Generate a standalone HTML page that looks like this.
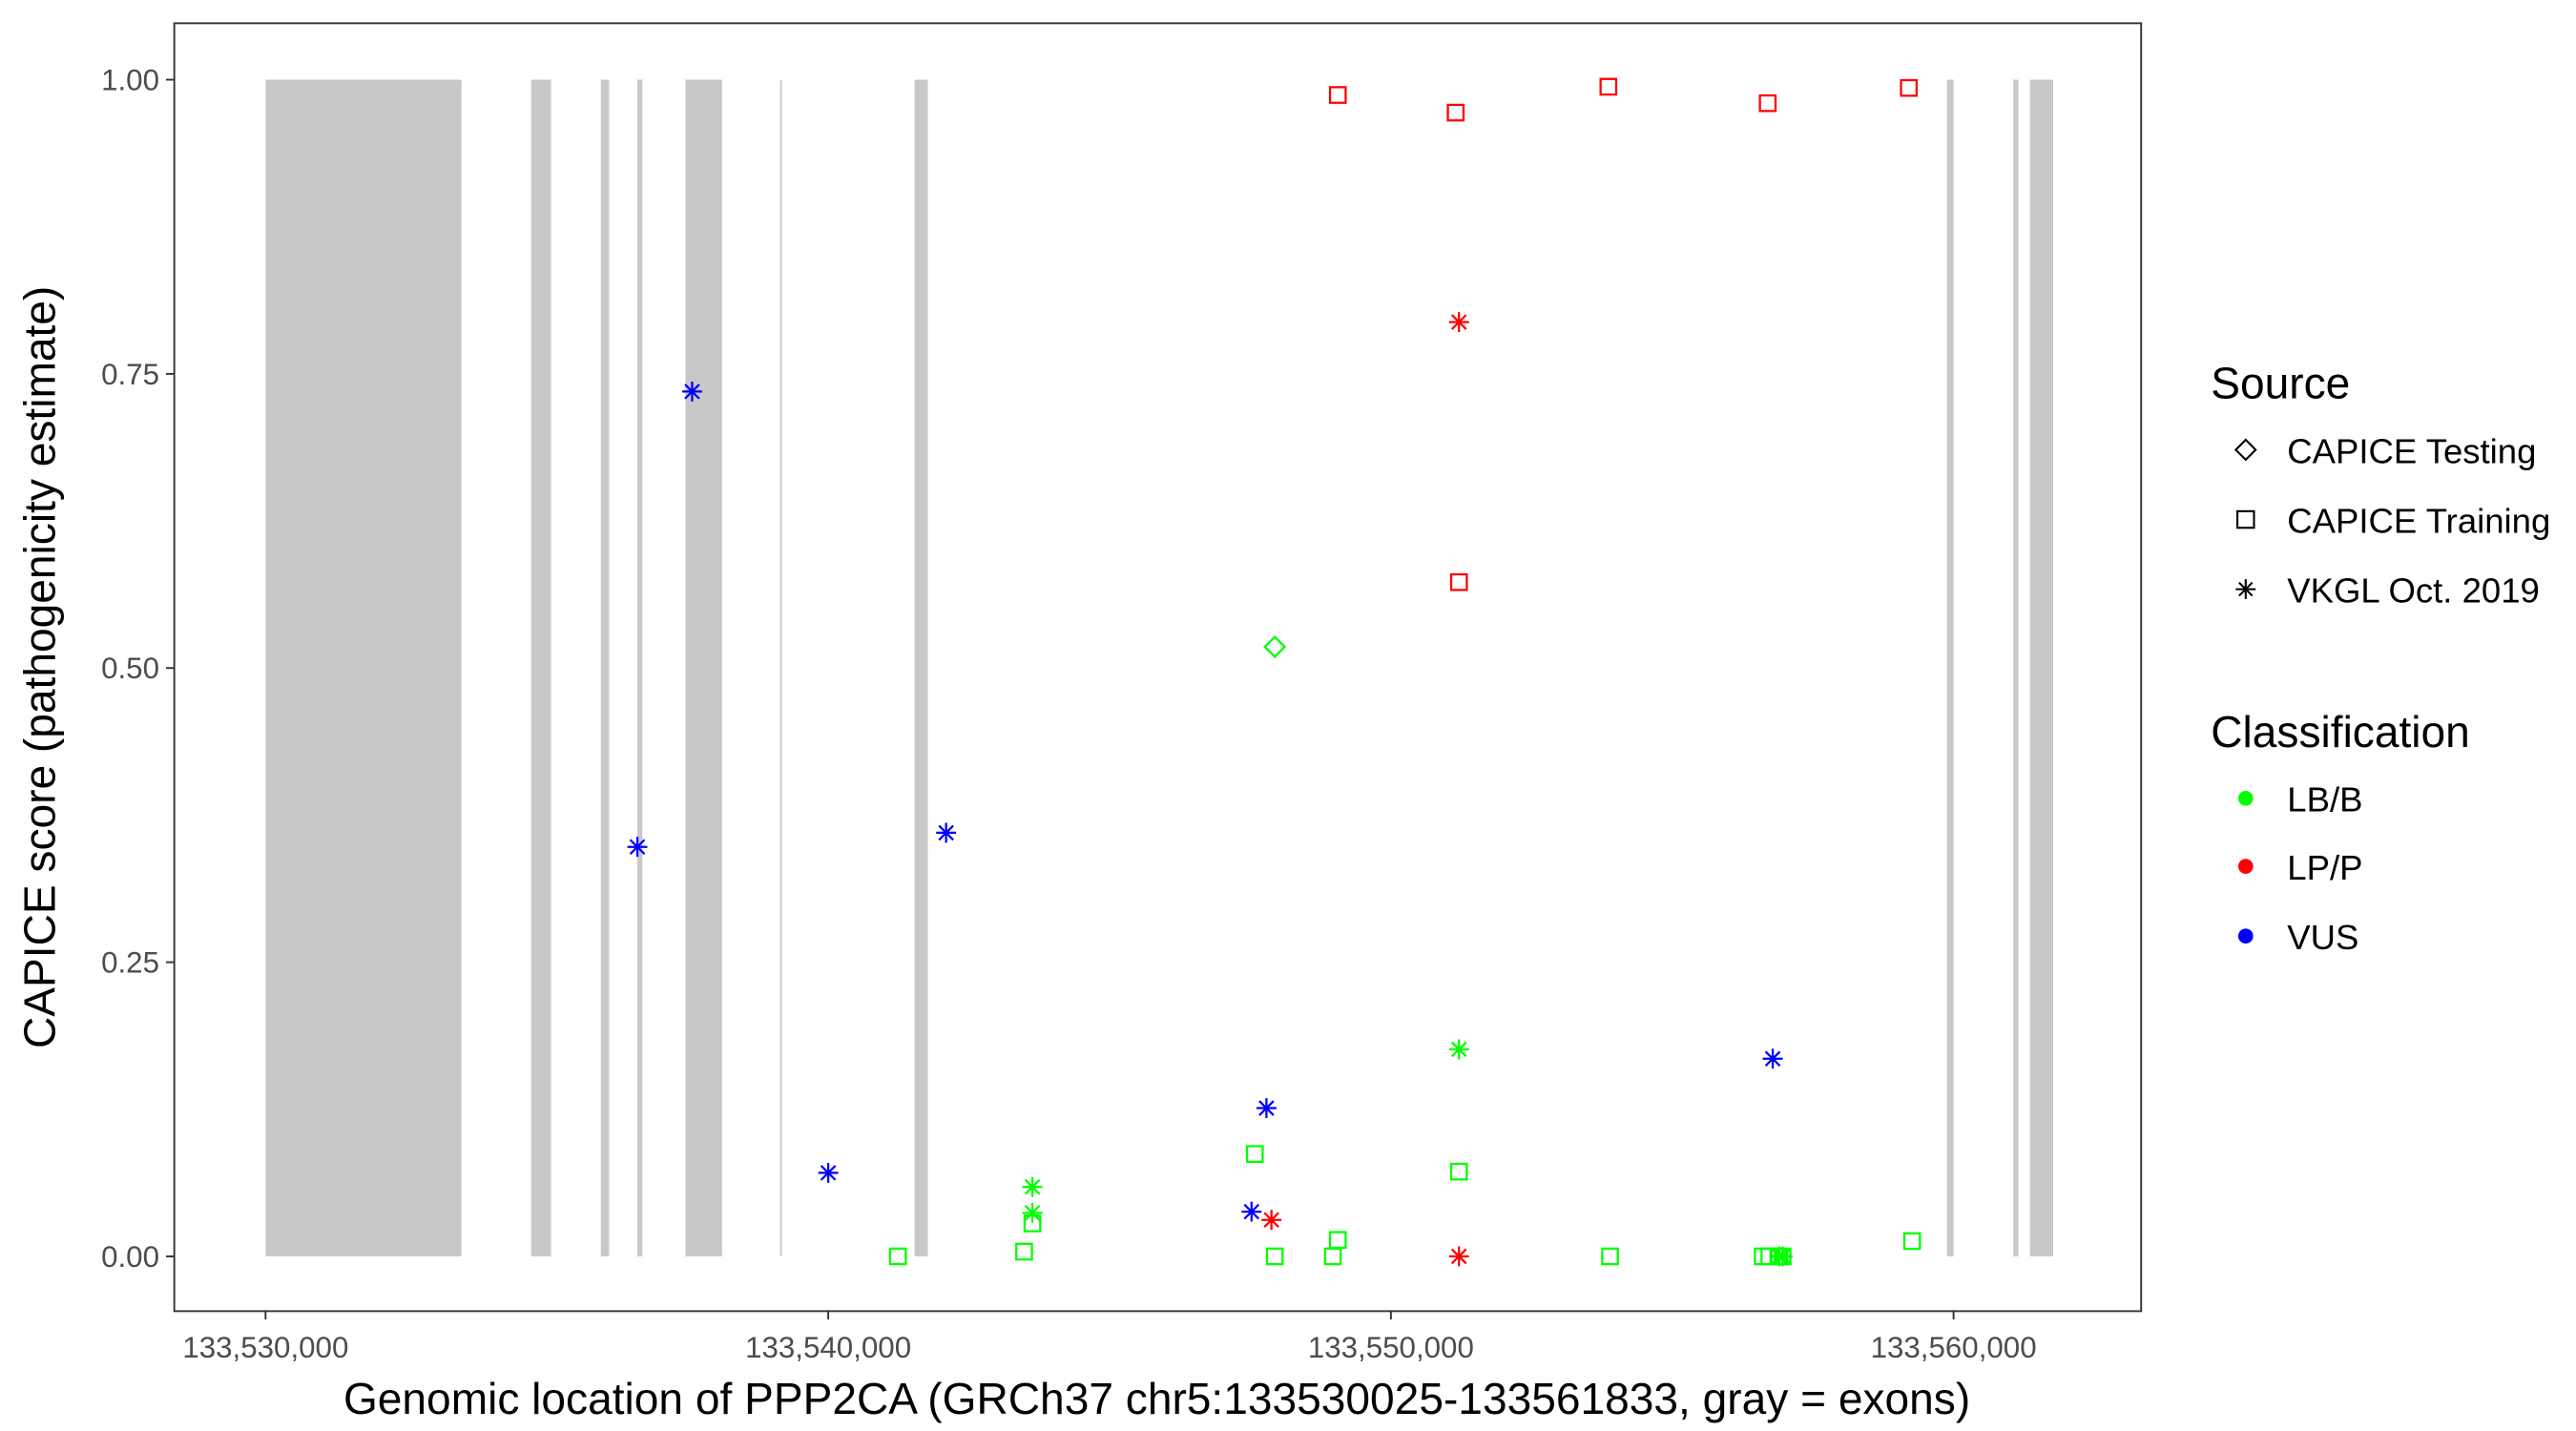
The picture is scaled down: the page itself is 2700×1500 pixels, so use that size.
<!DOCTYPE html>
<html><head><meta charset="utf-8"><style>
html,body{margin:0;padding:0;background:#fff}
svg{display:block}
text{font-family:"Liberation Sans",sans-serif}
</style></head><body>
<svg id="chart" width="2700" height="1500" viewBox="0 0 1552 862.2" xmlns="http://www.w3.org/2000/svg">
<rect x="0" y="0" width="1552" height="862.2" fill="#fff"/>
<g id="exons"></g>
<g id="points"></g>
<rect x="105" y="14" width="1185" height="776" fill="none" stroke="#333" stroke-width="1.1"/>
<g id="yaxis"></g>
<g id="xaxis"></g>
<text x="697" y="852" font-size="26.5" text-anchor="middle" fill="#000">Genomic location of PPP2CA (GRCh37 chr5:133530025-133561833, gray = exons)</text>
<text transform="translate(33,402) rotate(-90)" font-size="26.5" text-anchor="middle" fill="#000">CAPICE score (pathogenicity estimate)</text>
<g>
<text x="1332" y="240" font-size="26.5">Source</text>
<path d="M1353 265 L1359 271 L1353 277 L1347 271 Z" fill="none" stroke="#000" stroke-width="1.2"/>
<text x="1378" y="279" font-size="21">CAPICE Testing</text>
<rect x="1348" y="308" width="10" height="10" fill="none" stroke="#000" stroke-width="1.2"/>
<text x="1378" y="321" font-size="21">CAPICE Training</text>
<path d="M1347 355 h12 M1353 349 v12 M1349 351 l8 8 M1357 351 l-8 8" stroke="#000" stroke-width="1.2"/>
<text x="1378" y="363" font-size="21">VKGL Oct. 2019</text>
<text x="1332" y="450" font-size="26.5">Classification</text>
<circle cx="1353" cy="481" r="4.5" fill="#00ff00"/>
<text x="1378" y="489" font-size="21">LB/B</text>
<circle cx="1353" cy="522" r="4.5" fill="#ff0000"/>
<text x="1378" y="530" font-size="21">LP/P</text>
<circle cx="1353" cy="564" r="4.5" fill="#0000ff"/>
<text x="1378" y="572" font-size="21">VUS</text>
</g>
</svg>
<script>
const BASE = 133530000;
const exonStarts = [0, 4720, 5959, 6608, 7463, 9145, 11534, 29882, 31062, 31357];
const exonEnds   = [3481, 5074, 6106, 6696, 8112, 9174, 11770, 30000, 31150, 31770];
const xTicks = [133530000, 133540000, 133550000, 133560000];
const xTickLabels = ["133,530,000", "133,540,000", "133,550,000", "133,560,000"];
const yTicks = [0, 0.25, 0.5, 0.75, 1];
const yTickLabels = ["0.00", "0.25", "0.50", "0.75", "1.00"];
// points: genomic offset from BASE, score, source, class
const ptPos = [19057,21151,23865,26697,29204,21210, 21210,17877,21210, 17936,
  7581,6608,12095,10000,17788,17523,26786,
  13629,13629,21210,26903,26962,
  11239,13481,13629,17582,17936,18968,19057,21210,23894,26608,26726,26903,26962,29263];
const ptScore = [0.987,0.972,0.994,0.980,0.993,0.573, 0.794,0.031,0.0, 0.518,
  0.735,0.348,0.360,0.071,0.126,0.038,0.168,
  0.059,0.037,0.176,0.0,0.0,
  0.0,0.004,0.028,0.087,0.0,0.0,0.014,0.072,0.0,0.0,0.0,0.0,0.0,0.013];
const ptSource = ["train","train","train","train","train","train","vkgl","vkgl","vkgl","test",
  "vkgl","vkgl","vkgl","vkgl","vkgl","vkgl","vkgl",
  "vkgl","vkgl","vkgl","vkgl","vkgl",
  "train","train","train","train","train","train","train","train","train","train","train","train","train","train"];
const ptClass = ["LP","LP","LP","LP","LP","LP","LP","LP","LP","LB",
  "VUS","VUS","VUS","VUS","VUS","VUS","VUS",
  "LB","LB","LB","LB","LB",
  "LB","LB","LB","LB","LB","LB","LB","LB","LB","LB","LB","LB","LB","LB"];

const NS = "http://www.w3.org/2000/svg";
const colors = {LB:"#00ff00", LP:"#ff0000", VUS:"#0000ff"};
function xs(g){ return 160 + (g - BASE) / 10000 * 339; }
function ys(v){ return 757 - v * 709; }
function mk(tag, attrs, parent){ const e = document.createElementNS(NS, tag); for (const k in attrs) e.setAttribute(k, attrs[k]); parent.appendChild(e); return e; }

const exG = document.getElementById('exons');
for (let i = 0; i < exonStarts.length; i++) {
  const x0 = xs(BASE + exonStarts[i]), x1 = xs(BASE + exonEnds[i]);
  const r = mk('rect', {x:x0, y:ys(1), width:Math.max(x1-x0,0.8), height:ys(0)-ys(1), fill:'#c8c8c8'}, exG);
  
  
}
const yG = document.getElementById('yaxis');
yTicks.forEach((t, i) => {
  const y = ys(t);
  const l = mk('line', {x1:100, x2:105, y1:y, y2:y, stroke:'#333', 'stroke-width':1.1}, yG);
  
  
  const tx = mk('text', {x:96, y:y+6.3, 'font-size':18, 'text-anchor':'end', fill:'#4d4d4d'}, yG);
  tx.textContent = yTickLabels[i];
  
  
});
const xG = document.getElementById('xaxis');
xTicks.forEach((t, i) => {
  const x = xs(t);
  const l = mk('line', {x1:x, x2:x, y1:790, y2:795, stroke:'#333', 'stroke-width':1.1}, xG);
  
  
  const tx = mk('text', {x:x, y:818, 'font-size':18, 'text-anchor':'middle', fill:'#4d4d4d'}, xG);
  tx.textContent = xTickLabels[i];
  
  
});
const pG = document.getElementById('points');
for (let i = 0; i < ptPos.length; i++) {
  const x = xs(BASE + ptPos[i]), y = ys(ptScore[i]), c = colors[ptClass[i]];
  let e;
  if (ptSource[i] === 'train') {
    e = mk('rect', {x:x-4.7, y:y-4.7, width:9.4, height:9.4, fill:'none', stroke:c, 'stroke-width':1.3}, pG);
  } else if (ptSource[i] === 'test') {
    e = mk('path', {d:`M${x} ${y-6} L${x+6} ${y} L${x} ${y+6} L${x-6} ${y} Z`, fill:'none', stroke:c, 'stroke-width':1.3}, pG);
  } else {
    e = mk('path', {d:`M${x-6} ${y} h12 M${x} ${y-6} v12 M${x-4.3} ${y-4.3} l8.6 8.6 M${x+4.3} ${y-4.3} l-8.6 8.6`, stroke:c, 'stroke-width':1.3}, pG);
  }
  
  
}
</script>
</body></html>
